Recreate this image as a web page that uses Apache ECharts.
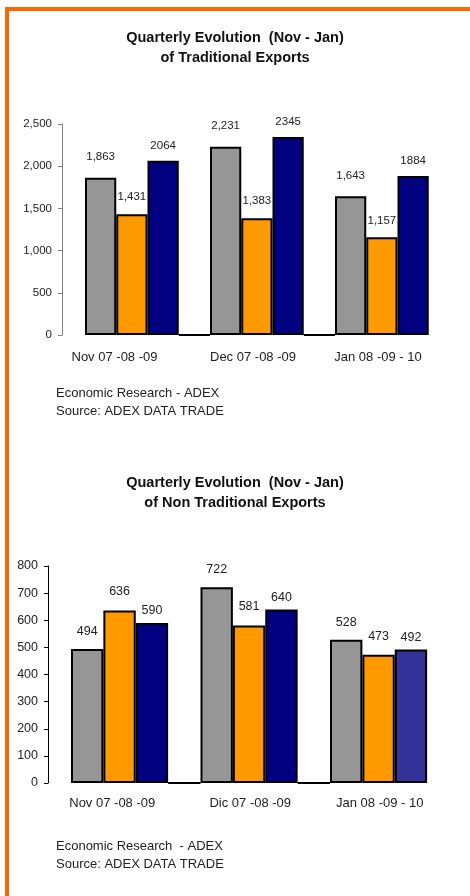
<!DOCTYPE html>
<html>
<head>
<meta charset="utf-8">
<title>Quarterly Evolution (Nov - Jan)</title>
<script src="https://cdn.jsdelivr.net/npm/echarts@6.0.0/dist/echarts.min.js"></script>
<style>
	html, body { margin: 0; padding: 0; background: #fff; }
	#main { position: absolute; left: 0; top: 0; width: 470px; height: 896px; }
	.frame {
		position: absolute; left: 5px; top: 7px; width: 465px; height: 889px;
		border-top: 4px solid #ff6600; border-left: 4px solid #ff6600;
		box-sizing: border-box; pointer-events: none;
	}
</style>
</head>
<body>
<div id="main"></div>
<div class="frame"></div>
<script type="text/javascript">
	// categories
	var catTrad = ['Nov 07 -08 -09', 'Dec 07 -08 -09', 'Jan 08 -09 - 10'];
	var catNonTrad = ['Nov 07 -08 -09', 'Dic 07 -08 -09', 'Jan 08 -09 - 10'];
	// traditional exports
	var tradFirst = [1863, 2231, 1643];
	var tradSecond = [1431, 1383, 1157];
	var tradThird = [2064, 2345, 1884];
	// non traditional exports
	var nonTradFirst = [494, 722, 528];
	var nonTradSecond = [636, 581, 473];
	var nonTradThird = [590, 640, 492];
	// empty slot between groups (drawn as a base line)
	var groupGap = [0, 0, null];
	// value axes
	var tradAxis = { min: 0, max: 2500, interval: 500 };
	var nonTradAxis = { min: 0, max: 800, interval: 100 };

	var FONT = '"Liberation Sans", Arial, sans-serif';
	var GRAY = '#969696', ORANGE = '#ff9900', NAVY = '#000080', BLUE = '#333399';

	function withComma(p) { return Number(p.value).toLocaleString('en-US'); }

	function barSeries(idx, data, color, dist, size, fmt) {
		return {
			type: 'bar',
			xAxisIndex: idx,
			yAxisIndex: idx,
			data: data,
			barGap: '0%',
			barCategoryGap: '0%',
			itemStyle: { color: color, borderColor: '#000', borderWidth: 2 },
			label: {
				show: true, position: 'top', distance: dist,
				fontFamily: FONT, fontSize: size, color: '#222',
				formatter: fmt || '{c}'
			}
		};
	}

	function gapSeries(idx, data) {
		return {
			type: 'bar', xAxisIndex: idx, yAxisIndex: idx, data: data,
			barGap: '0%', barCategoryGap: '0%',
			itemStyle: { color: '#fff', borderColor: '#000', borderWidth: 2 },
			label: { show: false }, silent: true
		};
	}

	function catAxis(idx, data, margin, firstPad, restPad) {
		return {
			type: 'category', gridIndex: idx, data: data,
			axisLine: { show: false }, axisTick: { show: false },
			axisLabel: {
				margin: margin, interval: 0,
				formatter: function (v, i) { return (i === 0 ? '{a|' : '{b|') + v + '}'; },
				rich: {
					a: { fontFamily: FONT, fontSize: 13, color: '#222', padding: [0, firstPad, 0, 0] },
					b: { fontFamily: FONT, fontSize: 13, color: '#222', padding: [0, restPad, 0, 0] }
				}
			}
		};
	}

	function valAxis(idx, range, lineColor, size, fmt) {
		return {
			type: 'value', gridIndex: idx, offset: 23,
			min: range.min, max: range.max, interval: range.interval,
			splitLine: { show: false },
			axisLine: { show: true, lineStyle: { color: lineColor, width: 1 } },
			axisTick: { show: true, length: 4, lineStyle: { color: lineColor } },
			axisLabel: { margin: 10, fontFamily: FONT, fontSize: size, color: '#222', formatter: fmt }
		};
	}

	var myChart = echarts.init(document.getElementById('main'), null, { renderer: 'canvas' });

	var option = {
		animation: false,
		backgroundColor: '#fff',
		title: [
			{
				text: 'Quarterly Evolution  (Nov - Jan)\nof Traditional Exports',
				left: 'center', top: 28, padding: 0,
				textStyle: { fontFamily: FONT, fontSize: 14.5, fontWeight: 'bold', color: '#111', lineHeight: 20 }
			},
			{
				text: 'Quarterly Evolution  (Nov - Jan)\nof Non Traditional Exports',
				left: 'center', top: 473, padding: 0,
				textStyle: { fontFamily: FONT, fontSize: 14.5, fontWeight: 'bold', color: '#111', lineHeight: 20 }
			},
			{
				text: 'Economic Research - ADEX\nSource: ADEX DATA TRADE',
				left: 56, top: 384, padding: 0,
				textStyle: { fontFamily: FONT, fontSize: 13, fontWeight: 'normal', color: '#222', lineHeight: 18 }
			},
			{
				text: 'Economic Research  - ADEX\nSource: ADEX DATA TRADE',
				left: 56, top: 837, padding: 0,
				textStyle: { fontFamily: FONT, fontSize: 13, fontWeight: 'normal', color: '#222', lineHeight: 18 }
			}
		],
		grid: [
			{ left: 85, width: 375, top: 124, height: 211 },
			{ left: 71, width: 388.5, top: 566, height: 217 }
		],
		xAxis: [
			catAxis(0, catTrad, 16, 66, 39),
			catAxis(1, catNonTrad, 14, 47, 30)
		],
		yAxis: [
			valAxis(0, tradAxis, '#808080', 11.5, function (v) { return v.toLocaleString('en-US'); }),
			valAxis(1, nonTradAxis, '#000', 12.5, '{value}')
		],
		series: [
			barSeries(0, tradFirst, GRAY, 15, 11.5, withComma),
			barSeries(0, tradSecond, ORANGE, 11, 11.5, withComma),
			barSeries(0, tradThird, NAVY, 9, 11.5),
			gapSeries(0, groupGap),
			barSeries(1, nonTradFirst, GRAY, 11, 12.5),
			barSeries(1, nonTradSecond, ORANGE, 12, 12.5),
			barSeries(1, nonTradThird, function (p) { return p.dataIndex === 2 ? BLUE : NAVY; }, 5.5, 12.5),
			gapSeries(1, groupGap)
		]
	};

	myChart.setOption(option);
</script>
</body>
</html>
